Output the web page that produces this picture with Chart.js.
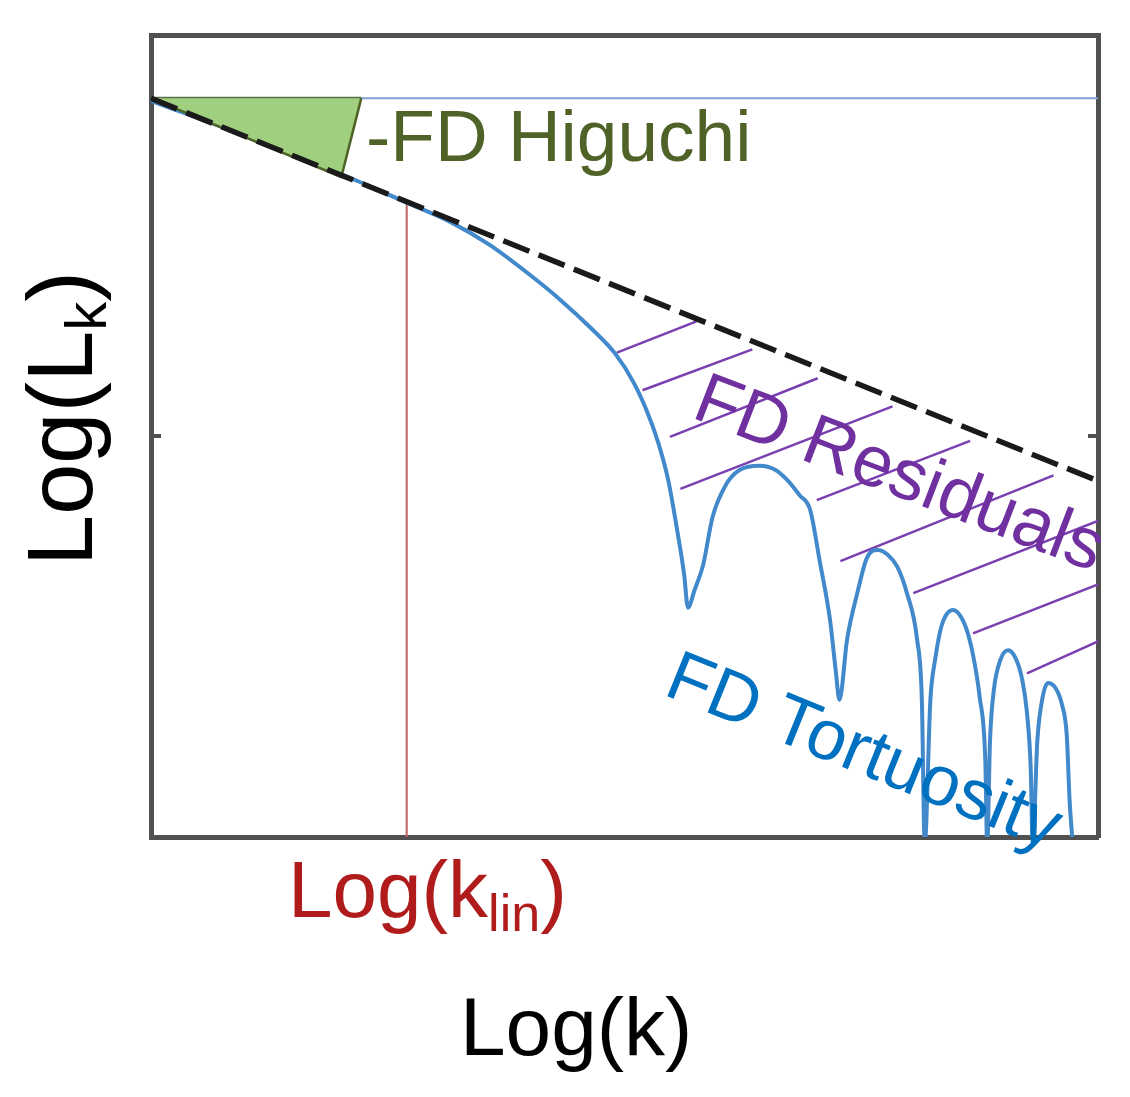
<!DOCTYPE html>
<html>
<head>
<meta charset="utf-8">
<script src="https://cdn.jsdelivr.net/npm/chart.js@4.4.0/dist/chart.umd.min.js"></script>
<style>
  html, body { margin: 0; padding: 0; background: #fff; }
  #wrap { width: 1130px; height: 1097px; position: relative; }
</style>
</head>
<body>
<div id="wrap"><canvas id="fdChart"></canvas></div>
<script>
// Schema Higuchi / residuos (unidades arbitrarias 0..100 en ambos ejes)
const hLineX = [0, 100];
const hLineY = [92.1, 92.1];

const fitX = [0, 100];
const fitY = [92.1, 44.4];

const triX = [0, 20.1, 22.2];
const triY = [92.1, 82.3, 92.1];
const triTopX = [0, 22.2];
const triTopY = [92.1, 92.1];

const klinX = [27.0, 27.0];
const klinY = [79.4, 0];

const curveX = [0, 10.45, 21.0, 27.0, 31.6, 35.8, 40.0, 43.2, 46.5, 49.0, 51.0, 52.4, 53.5, 54.6, 55.5, 56.3, 56.7,
  57.4, 58.3, 59.3, 60.8, 62.2, 64.3, 65.9, 67.2, 68.5, 69.6, 70.6, 71.7, 72.3, 72.7,
  73.5, 74.6, 75.6, 76.7, 77.8, 78.8, 79.8, 80.9, 81.4, 81.7,
  82.3, 82.8, 83.5, 84.7, 85.6, 86.3, 86.9, 87.5, 88.1, 88.3,
  88.6, 89.0, 89.7, 90.5, 91.3, 92.0, 92.5, 92.9, 93.1,
  93.6, 94.1, 94.7, 95.5, 96.2, 96.7, 97.0, 97.3];
const curveY = [91.8, 87.2, 82.2, 79.1, 76.7, 73.8, 70.1, 67.0, 63.4, 60.3, 56.6, 53.0, 49.4, 44.6, 38.7, 32.7, 28.6,
  30.8, 33.9, 39.9, 44.1, 45.8, 46.3, 45.8, 44.5, 42.6, 40.8, 34.5, 27.1, 20.8, 17.1,
  24.6, 30.5, 34.8, 35.8, 35.2, 33.7, 30.5, 24.6, 17.1, -1,
  17.1, 22.1, 26.4, 28.3, 27.3, 25.2, 22.1, 17.5, 9.6, -1,
  12.1, 18.3, 22.1, 23.3, 22.3, 19.6, 15.5, 8.4, -1,
  12.1, 17.1, 19.2, 18.6, 16.5, 12.7, 4.6, -0.4];

// hachurado: desde la curva hasta la recta de ajuste (o el borde)
const hatchX1 = [49.2, 51.9, 54.8, 55.9, 70.3, 72.8, 80.5, 86.8, 92.5];
const hatchY1 = [60.4, 55.7, 49.9, 43.4, 42.0, 34.4, 30.4, 25.4, 20.4];
const hatchX2 = [57.6, 63.5, 70.4, 78.3, 86.5, 95.3, 100, 100, 100];
const hatchY2 = [64.3, 60.8, 57.2, 53.7, 49.4, 45.1, 39.4, 31.5, 24.4];

const yTicks = [50];

const pts = (xs, ys) => xs.map((x, i) => ({ x: x, y: ys[i] }));

const hatchData = [];
hatchX1.forEach((x, i) => {
    hatchData.push({ x: x, y: hatchY1[i] });
    hatchData.push({ x: hatchX2[i], y: hatchY2[i] });
    hatchData.push({ x: hatchX2[i], y: null });
});

const axisOpts = (pos) => ({
    type: 'linear',
    position: pos,
    min: 0,
    max: 100,
    ticks: { display: false },
    grid: { display: false, drawTicks: false },
    border: { display: true, color: '#505050', width: 5 }
});

function drawRich(ctx, parts, x, y) {
    let cx = x;
    parts.forEach(p => {
        ctx.font = p.size + 'px "Liberation Sans", Arial, sans-serif';
        ctx.fillText(p.t, cx, y + (p.dy || 0));
        cx += ctx.measureText(p.t).width;
    });
}

const annotate = {
    id: 'annotate',
    afterDraw(chart) {
        const { ctx, chartArea, scales } = chart;
        ctx.save();
        // marcas de escala hacia dentro
        ctx.strokeStyle = '#505050';
        ctx.lineWidth = 4;
        yTicks.forEach(v => {
            const py = scales.y.getPixelForValue(v);
            ctx.beginPath();
            ctx.moveTo(chartArea.left, py);
            ctx.lineTo(chartArea.left + 10, py);
            ctx.moveTo(chartArea.right - 10, py);
            ctx.lineTo(chartArea.right, py);
            ctx.stroke();
        });

        ctx.textBaseline = 'alphabetic';
        ctx.textAlign = 'left';

        ctx.fillStyle = '#4f6228';
        drawRich(ctx, [{ t: '-FD Higuchi', size: 73 }], 366, 161);

        ctx.save();
        ctx.translate(690, 417);
        ctx.rotate(21 * Math.PI / 180);
        ctx.fillStyle = '#7030a0';
        drawRich(ctx, [{ t: 'FD Residuals', size: 72 }], 0, 0);
        ctx.restore();

        ctx.save();
        ctx.translate(662, 694);
        ctx.rotate(22 * Math.PI / 180);
        ctx.fillStyle = '#0070c0';
        drawRich(ctx, [{ t: 'FD Tortuosity', size: 71 }], 0, 0);
        ctx.restore();

        ctx.fillStyle = '#b01c1c';
        drawRich(ctx, [{ t: 'Log(k', size: 80 }, { t: 'lin', size: 52, dy: 14 }, { t: ')', size: 80 }], 288, 917);

        ctx.fillStyle = '#000';
        drawRich(ctx, [{ t: 'Log(k)', size: 82 }], 460, 1055);

        ctx.save();
        ctx.translate(92, 566);
        ctx.rotate(-Math.PI / 2);
        drawRich(ctx, [{ t: 'Log(L', size: 92 }, { t: 'k', size: 58, dy: 14 }, { t: ')', size: 92 }], 0, 0);
        ctx.restore();

        ctx.restore();
    }
};

new Chart(document.getElementById('fdChart'), {
    type: 'scatter',
    data: {
        datasets: [
            {
                label: 'ajuste',
                data: pts(fitX, fitY),
                showLine: true,
                borderColor: '#1a1a1a',
                borderWidth: 5.5,
                borderDash: [28, 10],
                pointRadius: 0
            },
            {
                label: 'Higuchi',
                data: pts(triX, triY),
                showLine: true,
                borderColor: '#4f6228',
                borderWidth: 2.5,
                backgroundColor: '#9fcf7f',
                fill: { value: 92.1 },
                pointRadius: 0
            },
            {
                label: 'Higuchi top',
                data: pts(triTopX, triTopY),
                showLine: true,
                borderColor: '#5a7248',
                borderWidth: 3,
                pointRadius: 0
            },
            {
                label: 'Tortuosity',
                data: pts(curveX, curveY),
                showLine: true,
                borderColor: '#4289cc',
                borderWidth: 4,
                cubicInterpolationMode: 'monotone',
                pointRadius: 0
            },
            {
                label: 'klin',
                data: pts(klinX, klinY),
                showLine: true,
                borderColor: '#c0605f',
                borderWidth: 2,
                pointRadius: 0
            },
            {
                label: 'Residuals',
                data: hatchData,
                showLine: true,
                spanGaps: false,
                borderColor: '#7a3fb0',
                borderWidth: 2.5,
                pointRadius: 0
            },
            {
                label: 'ref',
                data: pts(hLineX, hLineY),
                showLine: true,
                borderColor: '#7f9fd8',
                borderWidth: 2,
                pointRadius: 0
            }
        ]
    },
    options: {
        responsive: true,
        maintainAspectRatio: false,
        animation: false,
        layout: { padding: { left: 151, right: 32, top: 35, bottom: 260 } },
        scales: {
            x: axisOpts('bottom'),
            x2: axisOpts('top'),
            y: axisOpts('left'),
            y2: axisOpts('right')
        },
        plugins: {
            legend: { display: false },
            tooltip: { enabled: false }
        }
    },
    plugins: [annotate]
});
</script>
</body>
</html>
